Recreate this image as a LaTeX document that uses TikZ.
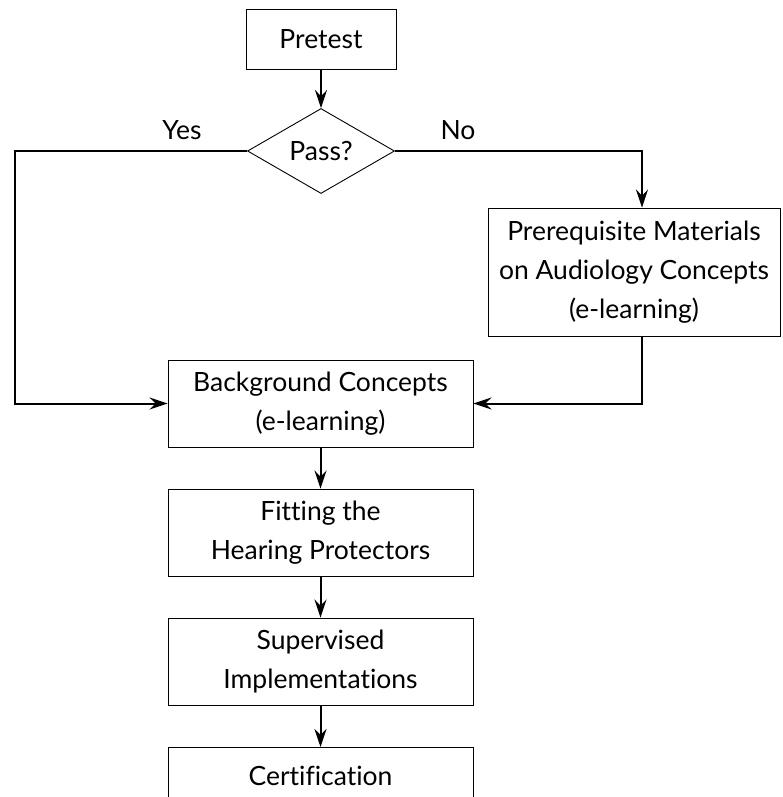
\documentclass[tikz,border=0pt]{standalone}
\usepackage{fontspec}
\setmainfont{Lato}[Ligatures={NoCommon}]
\usetikzlibrary{shapes.geometric,arrows.meta}
\begin{document}
\begin{tikzpicture}[x=1pt,y=-1pt,
  font=\fontsize{26.5}{39}\selectfont,
  box/.style={draw,line width=0.9pt,rectangle,inner sep=0pt,align=center},
  flow/.style={line width=2pt,-{Stealth[length=18pt,width=12pt,inset=6pt]}}]
\useasboundingbox (0,0) rectangle (783,797);
\clip (0,0) rectangle (783,797);

% process steps
\node[box,minimum width=150pt,minimum height=60pt] (pre) at (321,39) {Pretest};
\node[draw,line width=0.9pt,diamond,inner sep=0pt,minimum width=147pt,minimum height=85pt] (pass) at (321,151) {Pass?};
\node[box,minimum width=292pt,minimum height=128pt] (prq) at (634,272)
  {Prerequisite Materials\\on Audiology Concepts\\(e-learning)};
\node[box,minimum width=305pt,minimum height=87pt] (bg) at (320.5,403.5)
  {Background Concepts\\(e-learning)};
\node[box,minimum width=305pt,minimum height=87pt] (fit) at (320.5,532.5)
  {Fitting the\\Hearing Protectors};
\node[box,minimum width=305pt,minimum height=87pt] (sup) at (320.5,661.5)
  {Supervised\\Implementations};
\node[box,minimum width=305pt,inner ysep=18pt,text height=20pt,text depth=31pt,anchor=north] (cert) at (320.5,747)
  {Certification};

% branch labels
\node (yes) at (182,130) {Yes};
\node (no) at (458,130) {No};

% bend points of the branches
\coordinate (ycorner) at (15,151);
\coordinate (ncorner) at (642,151);

% connectors
\draw[flow] (pre.south) -- (pass.north);
\draw[flow] (pass.west) -- (ycorner) |- (bg.west);
\draw[flow] (pass.east) -- (ncorner) -- (ncorner |- prq.north);
\draw[flow] (ncorner |- prq.south) |- (bg.east);
\draw[flow] (bg.south) -- (fit.north);
\draw[flow] (fit.south) -- (sup.north);
\draw[flow] (sup.south) -- (cert.north);
\end{tikzpicture}
\end{document}
